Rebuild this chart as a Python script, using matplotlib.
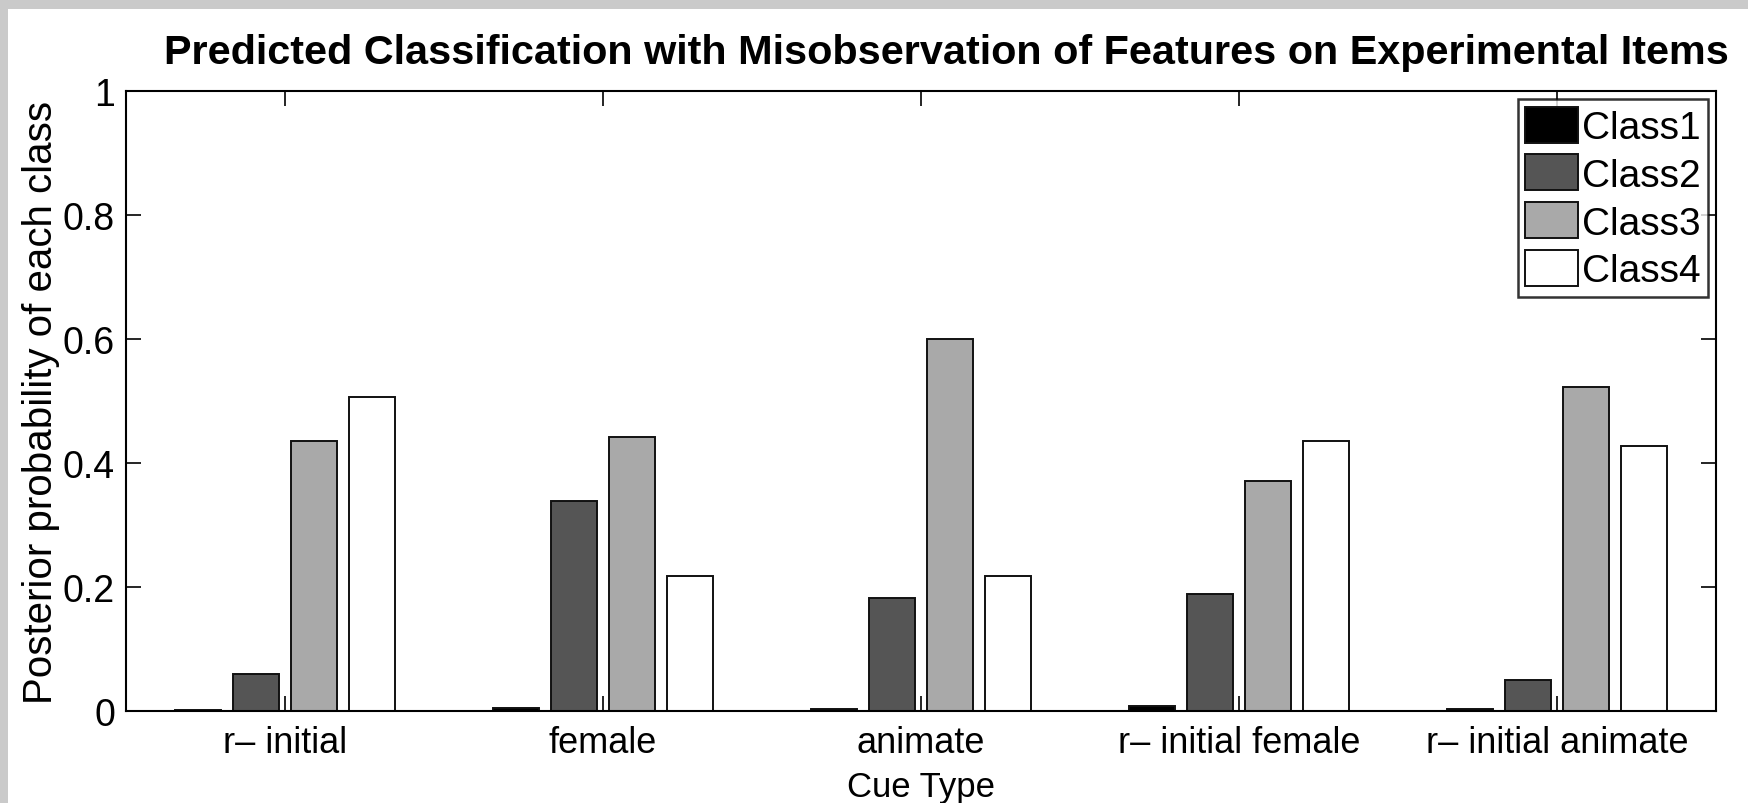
import numpy as np
import matplotlib
matplotlib.use('Agg')
import matplotlib.pyplot as plt
from matplotlib.patches import Rectangle

plt.rcParams['font.family'] = ['Liberation Sans', 'DejaVu Sans']

# data
cues = ['r\u2013 initial', 'female', 'animate', 'r\u2013 initial female', 'r\u2013 initial animate']
classes = ['Class1', 'Class2', 'Class3', 'Class4']
class1 = [0.002, 0.005, 0.004, 0.008, 0.004]
class2 = [0.059, 0.339, 0.182, 0.188, 0.050]
class3 = [0.435, 0.442, 0.600, 0.371, 0.522]
class4 = [0.506, 0.218, 0.218, 0.436, 0.427]
colors = ['#000000', '#555555', '#a9a9a9', '#ffffff']

fig = plt.figure(figsize=(17.49, 8.04), dpi=100)
fig.patch.set_facecolor('white')
# textured grey strip on left / top of the original screenshot
fig.patches.append(Rectangle((0, 0), 8 / 1749, 1, transform=fig.transFigure,
                             facecolor='#cacaca', edgecolor='none', zorder=0))
fig.patches.append(Rectangle((0, 1 - 10 / 804), 1, 10 / 804, transform=fig.transFigure,
                             facecolor='#cacaca', edgecolor='none', zorder=0))

ax = fig.add_axes([126 / 1749, 1 - 712 / 804, (1716 - 126) / 1749, (712 - 92) / 804])

x = np.arange(1, len(cues) + 1)
n = len(classes)
groupwidth = min(0.8, n / (n + 1.5))
step = groupwidth / n
width = 0.8 * step
series = [class1, class2, class3, class4]
for i, (vals, c, lab) in enumerate(zip(series, colors, classes)):
    off = (i - (n - 1) / 2) * step
    ax.bar(x + off, vals, width, color=c, edgecolor='#111111', linewidth=1.4, label=lab)

ax.set_xlim(0.5, 5.5)
ax.set_ylim(0, 1)
ax.set_xticks(x)
ax.set_xticklabels(cues, fontsize=26)
ax.set_yticks([0, 0.2, 0.4, 0.6, 0.8, 1])
ax.set_yticklabels(['0', '0.2', '0.4', '0.6', '0.8', '1'], fontsize=27)
ax.tick_params(direction='in', length=11, width=1.2, top=True, right=True, pad=8)
ax.tick_params(axis='x', pad=10)
for s in ax.spines.values():
    s.set_linewidth(1.5)

ax.set_xlabel('Cue Type', fontsize=25, labelpad=7)
ax.set_ylabel('Posterior probability of each class', fontsize=29, labelpad=2)
ax.set_title('Predicted Classification with Misobservation of Features on Experimental Items',
             fontsize=29.8, fontweight='bold', pad=20, x=0.516)

leg = ax.legend(loc='upper right', fontsize=28, frameon=True, fancybox=False,
                edgecolor='black', handlelength=1.35, handleheight=1.05,
                handletextpad=0.1, labelspacing=0.22, borderpad=0.2,
                borderaxespad=0.2)
leg.get_frame().set_linewidth(1.8)

fig.savefig('out.png', dpi=100)
